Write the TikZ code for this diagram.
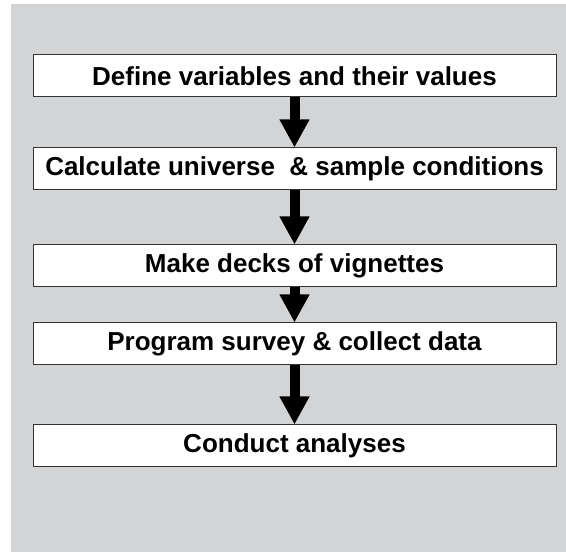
\documentclass[tikz,border=0pt]{standalone}
\usepackage{fontspec}
\setmainfont{Liberation Sans}
\usetikzlibrary{arrows.meta}
\definecolor{panel}{RGB}{211,212,214}
\newcommand{\midx}{294.5}

\begin{document}
\begin{tikzpicture}[
      x=1pt, y=1pt, %one unit is one point
      stage/.style={draw=black!80, line width=1pt, fill=white,
        minimum width=523pt, minimum height=42pt, inner sep=0pt,
        font=\fontsize{26}{30}\selectfont\bfseries},
      flow/.style={line width=10pt, -{Triangle[width=28pt,length=28pt]}}
    ]
    % grey panel behind the steps
    \useasboundingbox (0,0) rectangle (566,552);
    \fill[panel] (11,0) rectangle (566,548);
    % the five steps, top to bottom
    \node[stage] (define) at (\midx,476) {Define variables and their values};
    \node[stage] (calc) at (\midx,383) {Calculate universe~ \& sample conditions};
    \node[stage] (decks) at (\midx,286) {Make decks of vignettes};
    \node[stage] (survey) at (\midx,208) {Program survey \& collect data};
    \node[stage] (analyse) at (\midx,106) {Conduct analyses};
    % arrows between the steps
    \draw[flow] (define.south) -- (calc.north);
    \draw[flow] (calc.south) -- (decks.north);
    \draw[flow] (decks.south) -- (survey.north);
    \draw[flow] (survey.south) -- (analyse.north);
\end{tikzpicture}
\end{document}
